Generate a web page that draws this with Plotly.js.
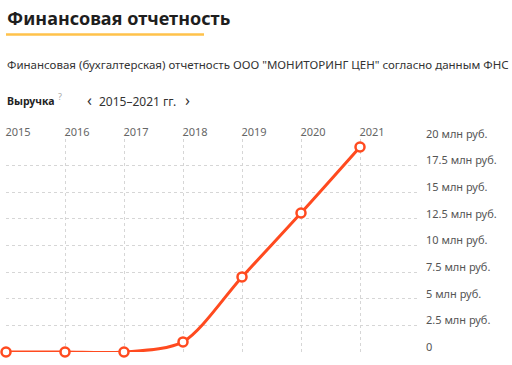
<!DOCTYPE html>
<html><head><meta charset="utf-8">
<script src="https://cdn.plot.ly/plotly-3.0.1.min.js"></script>
<style>html,body{margin:0;padding:0;background:#fff}#c{width:512px;height:365px}</style>
</head><body><div id="c"></div>
<script>
const years = [2015, 2016, 2017, 2018, 2019, 2020, 2021];
const revenue = [0, 0, 0, 0.95, 7.05, 13.05, 19.25];
const yTickVals = [0, 2.5, 5, 7.5, 10, 12.5, 15, 17.5, 20];
const yTickText = ["0", "2.5 млн руб.", "5 млн руб.", "7.5 млн руб.", "10 млн руб.", "12.5 млн руб.", "15 млн руб.", "17.5 млн руб.", "20 млн руб."];
const xTickText = ["2015", "2016", "2017", "2018", "2019", "2020", "2021"];

const W = 512, H = 365, L = 6, R = 93, T = 139, B = 13;
const pw = W - L - R, ph = H - T - B;
const px = x => (x - L) / pw;
const py = y => (H - B - y) / ph;
const font = "Noto Sans, Open Sans, sans-serif";

const trace = {
  x: years, y: revenue, type: "scatter", mode: "lines+markers",
  line: {color: "#ff4a1f", width: 3, shape: "spline", smoothing: 0.8},
  marker: {size: 9, color: "#ffffff", line: {color: "#ff4a1f", width: 2.5}},
  cliponaxis: false, hoverinfo: "skip"
};

const ann = (text, x, y, size, color, extra) => Object.assign({
  text: text, xref: "paper", yref: "paper", x: px(x), y: py(y),
  xanchor: "left", yanchor: "middle", showarrow: false,
  font: {family: font, size: size, color: color}
}, extra || {});

const layout = {
  width: W, height: H,
  margin: {l: L, r: R, t: T, b: B, pad: 0},
  paper_bgcolor: "#fff", plot_bgcolor: "#fff",
  showlegend: false,
  font: {family: font, size: 11, color: "#666"},
  xaxis: {
    range: [2015, 2022], side: "top", tickvals: years, ticktext: xTickText,
    showgrid: true, gridcolor: "#d6d6d6", griddash: "dot", gridwidth: 1,
    zeroline: false, showline: false, ticks: "", ticklabelshift: 12, ticklabelstandoff: 0,
    tickfont: {size: 11, color: "#666"}, fixedrange: true
  },
  yaxis: {
    range: [0, 20], side: "right", tickvals: yTickVals, ticktext: yTickText,
    showgrid: true, gridcolor: "#d6d6d6", griddash: "dot", gridwidth: 1,
    zeroline: false, showline: false, ticks: "", ticklabelshift: -5, ticklabelstandoff: 6,
    tickfont: {size: 11, color: "#555"}, fixedrange: true
  },
  annotations: [
    ann("<b>Финансовая отчетность</b>", 5, 18, 18, "#1e1e1e"),
    ann("Финансовая (бухгалтерская) отчетность ООО \"МОНИТОРИНГ ЦЕН\" согласно данным ФНС", 5, 64, 11.5, "#333"),
    ann("<b>Выручка</b>", 5, 101, 10.5, "#222"),
    ann("?", 56, 96, 9, "#aaa"),
    ann("‹", 85, 100, 16, "#333"),
    ann("2015–2021 гг.", 97, 101, 12, "#333"),
    ann("›", 183, 100, 16, "#333")
  ],
  shapes: [
    {type: "line", xref: "paper", yref: "paper", x0: px(6), x1: px(204), y0: py(34.5), y1: py(34.5),
     line: {color: "#ffc24a", width: 2.5}}
  ]
};

Plotly.newPlot("c", [trace], layout, {displayModeBar: false, staticPlot: true});
</script></body></html>
